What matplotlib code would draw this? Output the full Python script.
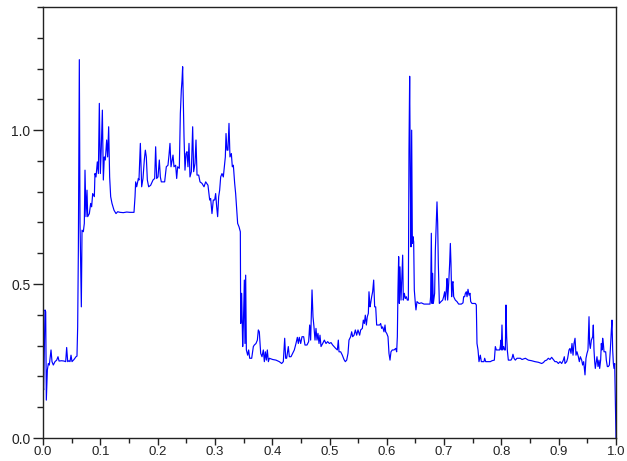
import matplotlib
matplotlib.use("Agg")
import matplotlib.pyplot as plt
from matplotlib.ticker import MultipleLocator
import numpy as np

# ---- data (x in [0,1], y value) ----
x_start = [0.0, 0.0006, 0.0011, 0.0035, 0.0047, 0.0058, 0.0076, 0.0093, 0.0110, 0.0140,
           0.0157, 0.0180, 0.0209, 0.0239, 0.0262, 0.0280, 0.0326, 0.0366, 0.0396, 0.0413,
           0.0431, 0.0454, 0.0471, 0.0489, 0.0506, 0.0541, 0.0576, 0.0593, 0.0605]
y_start = [0.0, 0.167, 0.156, 0.416, 0.410, 0.123, 0.221, 0.242, 0.237, 0.286,
           0.248, 0.237, 0.248, 0.253, 0.264, 0.250, 0.251, 0.250, 0.248, 0.294,
           0.248, 0.251, 0.248, 0.269, 0.248, 0.255, 0.264, 0.266, 0.361]

x_rise = [0.0617, 0.0634, 0.0646, 0.0658, 0.0669, 0.0681, 0.0704, 0.0721, 0.0733, 0.0750,
          0.0768, 0.0780, 0.0809, 0.0832, 0.0849, 0.0867, 0.0896, 0.0907, 0.0925, 0.0948,
          0.0966, 0.0983, 0.1001, 0.1018, 0.1036, 0.1053, 0.1070, 0.1088, 0.1111, 0.1128,
          0.1146, 0.1163, 0.1181, 0.1204, 0.1239, 0.1274, 0.1303, 0.1344, 0.1402, 0.1460,
          0.1518, 0.1588, 0.1606, 0.1617, 0.1635, 0.1664]
y_rise = [0.610, 1.229, 0.700, 0.545, 0.426, 0.675, 0.670, 0.697, 0.870, 0.719,
          0.805, 0.719, 0.729, 0.762, 0.751, 0.794, 0.784, 0.859, 0.848, 0.897,
          0.859, 1.087, 0.859, 0.946, 1.065, 0.838, 0.913, 0.903, 0.968, 0.913,
          1.011, 0.848, 0.784, 0.762, 0.740, 0.729, 0.735, 0.733, 0.732, 0.734,
          0.733, 0.733, 0.784, 0.832, 0.816, 0.843]

x_high = [0.1675, 0.1699, 0.1722, 0.1745, 0.1768, 0.1786, 0.1803, 0.1821, 0.1844, 0.1879,
          0.1920, 0.1949, 0.1966, 0.1984, 0.2007, 0.2030, 0.2048, 0.2065, 0.2123, 0.2152,
          0.2181, 0.2199, 0.2216, 0.2234, 0.2269, 0.2286, 0.2315, 0.2333, 0.2350, 0.2379,
          0.2397, 0.2414, 0.2426, 0.2437, 0.2449, 0.2461, 0.2478, 0.2496, 0.2513, 0.2530,
          0.2548, 0.2565, 0.2589, 0.2612, 0.2629, 0.2653, 0.2670, 0.2688, 0.2717, 0.2740,
          0.2775, 0.2810, 0.2839, 0.2879, 0.2909, 0.2926, 0.2949, 0.2972, 0.2996, 0.3013,
          0.3031, 0.3048, 0.3066, 0.3083, 0.3101, 0.3124, 0.3147, 0.3182, 0.3194, 0.3211,
          0.3228, 0.3246, 0.3263, 0.3287, 0.3304, 0.3322, 0.3345, 0.3362]
y_high = [0.838, 0.957, 0.816, 0.843, 0.903, 0.935, 0.913, 0.838, 0.816, 0.821,
          0.838, 0.843, 0.946, 0.843, 0.848, 0.903, 0.848, 0.832, 0.832, 0.881,
          0.886, 0.919, 0.957, 0.881, 0.919, 0.881, 0.886, 0.843, 0.881, 0.876,
          1.054, 1.130, 1.162, 1.206, 1.097, 0.978, 0.870, 0.924, 0.930, 0.881,
          0.957, 0.848, 0.865, 1.011, 0.865, 0.892, 0.968, 0.854, 0.854, 0.832,
          0.827, 0.816, 0.832, 0.821, 0.773, 0.778, 0.729, 0.773, 0.773, 0.794,
          0.751, 0.719, 0.784, 0.805, 0.848, 0.859, 0.848, 0.913, 0.989, 0.935,
          0.935, 1.022, 0.913, 0.924, 0.881, 0.886, 0.827, 0.794]

x_drop = [0.3397, 0.3421, 0.3444, 0.3450, 0.3467, 0.3485, 0.3496, 0.3514, 0.3525, 0.3537,
          0.3549, 0.3572, 0.3589, 0.3607, 0.3642, 0.3671, 0.3688, 0.3717, 0.3741, 0.3758,
          0.3775, 0.3799, 0.3822, 0.3845, 0.3863, 0.3880, 0.3898, 0.3915, 0.3933, 0.3950,
          0.4008, 0.4066, 0.4124, 0.4165, 0.4194, 0.4218, 0.4235, 0.4252, 0.4281, 0.4299,
          0.4328, 0.4357, 0.4386, 0.4415, 0.4439, 0.4456, 0.4473, 0.4497, 0.4520, 0.4549,
          0.4572, 0.4607, 0.4636, 0.4654, 0.4671, 0.4695, 0.4712, 0.4729, 0.4747, 0.4764,
          0.4782, 0.4799, 0.4817, 0.4834, 0.4852, 0.4881, 0.4910, 0.4939, 0.4968, 0.4997,
          0.5026, 0.5055]
y_drop = [0.697, 0.686, 0.670, 0.372, 0.470, 0.297, 0.361, 0.513, 0.307, 0.529,
          0.286, 0.269, 0.286, 0.259, 0.259, 0.297, 0.302, 0.307, 0.318, 0.351,
          0.345, 0.275, 0.264, 0.286, 0.248, 0.280, 0.253, 0.286, 0.248, 0.259,
          0.255, 0.253, 0.248, 0.242, 0.248, 0.324, 0.259, 0.259, 0.297, 0.264,
          0.264, 0.275, 0.286, 0.307, 0.327, 0.307, 0.327, 0.307, 0.329, 0.329,
          0.302, 0.302, 0.313, 0.367, 0.318, 0.481, 0.394, 0.361, 0.318, 0.356,
          0.318, 0.340, 0.307, 0.334, 0.297, 0.307, 0.318, 0.307, 0.313, 0.307,
          0.310, 0.302]

x_mid = [0.5108, 0.5137, 0.5154, 0.5166, 0.5195, 0.5224, 0.5253, 0.5276, 0.5300, 0.5323,
         0.5340, 0.5369, 0.5387, 0.5404, 0.5428, 0.5451, 0.5474, 0.5497, 0.5526, 0.5544,
         0.5573, 0.5590, 0.5608, 0.5625, 0.5643, 0.5660, 0.5678, 0.5689, 0.5707, 0.5718,
         0.5736, 0.5753, 0.5771, 0.5788, 0.5806, 0.5823, 0.5846, 0.5875, 0.5893, 0.5910,
         0.5928, 0.5951, 0.5969, 0.5980, 0.5998, 0.6021, 0.6038, 0.6056, 0.6073, 0.6096,
         0.6126, 0.6155, 0.6172, 0.6184, 0.6195, 0.6207, 0.6219, 0.6230, 0.6248, 0.6265,
         0.6277, 0.6288, 0.6306, 0.6323, 0.6341, 0.6358, 0.6376, 0.6387, 0.6399, 0.6411,
         0.6422, 0.6434, 0.6446, 0.6457, 0.6469, 0.6480, 0.6498, 0.6509, 0.6527, 0.6562,
         0.6603, 0.6649, 0.6707, 0.6754, 0.6765, 0.6777, 0.6789, 0.6800, 0.6812]
y_mid = [0.291, 0.286, 0.318, 0.280, 0.280, 0.269, 0.255, 0.248, 0.253, 0.275,
         0.318, 0.329, 0.345, 0.329, 0.334, 0.351, 0.334, 0.351, 0.334, 0.351,
         0.356, 0.383, 0.372, 0.399, 0.367, 0.394, 0.405, 0.475, 0.426, 0.437,
         0.459, 0.475, 0.513, 0.426, 0.426, 0.367, 0.367, 0.367, 0.372, 0.356,
         0.361, 0.345, 0.367, 0.345, 0.340, 0.329, 0.275, 0.253, 0.280, 0.286,
         0.286, 0.291, 0.280, 0.329, 0.481, 0.589, 0.437, 0.556, 0.448, 0.535,
         0.594, 0.448, 0.470, 0.453, 0.459, 0.448, 0.448, 0.935, 1.175, 0.827,
         0.621, 1.000, 0.632, 0.654, 0.637, 0.481, 0.437, 0.416, 0.443, 0.437,
         0.439, 0.435, 0.435, 0.435, 0.459, 0.665, 0.437, 0.535, 0.437]

x_late = [0.6835, 0.6847, 0.6864, 0.6876, 0.6888, 0.6899, 0.6917, 0.6946, 0.6975, 0.6992,
          0.7010, 0.7021, 0.7039, 0.7051, 0.7062, 0.7080, 0.7097, 0.7109, 0.7120, 0.7132,
          0.7144, 0.7155, 0.7167, 0.7196, 0.7225, 0.7254, 0.7301, 0.7330, 0.7341, 0.7359,
          0.7371, 0.7388, 0.7400, 0.7417, 0.7435, 0.7452, 0.7464, 0.7487, 0.7516, 0.7545,
          0.7562, 0.7574, 0.7592, 0.7609, 0.7632, 0.7650, 0.7673, 0.7696, 0.7708, 0.7726,
          0.7749, 0.7778, 0.7807, 0.7836, 0.7877, 0.7894, 0.7912, 0.7941, 0.7970, 0.7981,
          0.7993, 0.7999, 0.8010, 0.8022, 0.8040, 0.8057, 0.8069, 0.8080, 0.8092, 0.8103,
          0.8121, 0.8144, 0.8167, 0.8185, 0.8202, 0.8220, 0.8243, 0.8272, 0.8301, 0.8330,
          0.8360, 0.8418]
y_late = [0.470, 0.610, 0.697, 0.767, 0.697, 0.567, 0.437, 0.443, 0.448, 0.459,
          0.475, 0.448, 0.481, 0.518, 0.448, 0.502, 0.567, 0.632, 0.567, 0.459,
          0.502, 0.508, 0.459, 0.448, 0.443, 0.435, 0.435, 0.439, 0.459, 0.459,
          0.470, 0.475, 0.459, 0.483, 0.464, 0.470, 0.443, 0.437, 0.437, 0.437,
          0.432, 0.307, 0.286, 0.248, 0.269, 0.248, 0.248, 0.248, 0.259, 0.248,
          0.248, 0.248, 0.248, 0.251, 0.253, 0.297, 0.286, 0.286, 0.286, 0.297,
          0.318, 0.286, 0.367, 0.286, 0.297, 0.286, 0.286, 0.432, 0.329, 0.286,
          0.253, 0.253, 0.253, 0.259, 0.272, 0.259, 0.253, 0.259, 0.259, 0.259,
          0.255, 0.259]

x_end = [0.8470, 0.8528, 0.8586, 0.8645, 0.8703, 0.8732, 0.8761, 0.8790, 0.8819, 0.8848,
         0.8877, 0.8906, 0.8935, 0.8964, 0.8994, 0.9023, 0.9052, 0.9081, 0.9098, 0.9110,
         0.9139, 0.9156, 0.9180, 0.9197, 0.9215, 0.9232, 0.9250, 0.9267, 0.9285, 0.9302,
         0.9319, 0.9343, 0.9360, 0.9378, 0.9401, 0.9418, 0.9436, 0.9447, 0.9459, 0.9476,
         0.9494, 0.9511, 0.9529, 0.9540, 0.9552, 0.9570, 0.9593, 0.9604, 0.9616, 0.9628,
         0.9639, 0.9651, 0.9668, 0.9686, 0.9703, 0.9715, 0.9732, 0.9744, 0.9756, 0.9767,
         0.9779, 0.9791, 0.9808, 0.9820, 0.9831, 0.9849, 0.9866, 0.9884, 0.9901, 0.9919,
         0.9930, 0.9942, 0.9954, 0.9965, 0.9977, 0.9988, 1.0000]
y_end = [0.253, 0.251, 0.248, 0.246, 0.242, 0.245, 0.251, 0.253, 0.259, 0.255,
         0.262, 0.255, 0.248, 0.248, 0.242, 0.248, 0.242, 0.253, 0.264, 0.242,
         0.248, 0.259, 0.286, 0.291, 0.275, 0.307, 0.269, 0.307, 0.324, 0.269,
         0.280, 0.264, 0.248, 0.264, 0.253, 0.237, 0.248, 0.226, 0.205, 0.259,
         0.275, 0.286, 0.394, 0.307, 0.291, 0.318, 0.329, 0.367, 0.286, 0.248,
         0.226, 0.242, 0.264, 0.232, 0.253, 0.226, 0.253, 0.307, 0.286, 0.324,
         0.307, 0.280, 0.280, 0.280, 0.253, 0.232, 0.232, 0.237, 0.286, 0.351,
         0.383, 0.286, 0.242, 0.226, 0.242, 0.120, 0.0]

x_tick_labels = ["0.0", "0.1", "0.2", "0.3", "0.4", "0.5", "0.6", "0.7", "0.8", "0.9", "1.0"]
y_tick_labels = ["0.0", "0.5", "1.0"]

xs = [x_start, x_rise, x_high, x_drop, x_mid, x_late, x_end]
ys = [y_start, y_rise, y_high, y_drop, y_mid, y_late, y_end]
for a, b in zip(xs, ys):
    assert len(a) == len(b), (len(a), len(b))
x = np.concatenate(xs)
y = np.concatenate(ys)

plt.rcParams['font.family'] = ['Liberation Sans', 'DejaVu Sans']

fig = plt.figure(figsize=(6.27, 4.61), dpi=100)
ax = fig.add_axes([43 / 627, 23 / 461, 573 / 627, 431 / 461])

ax.plot(x, y, color='#0000ff', linewidth=0.85)

ax.set_xlim(0, 1)
ax.set_ylim(0, 1.4)

ax.set_xticks([float(t) for t in x_tick_labels])
ax.set_xticklabels(x_tick_labels)
ax.set_yticks([float(t) for t in y_tick_labels])
ax.set_yticklabels(y_tick_labels)
ax.xaxis.set_minor_locator(MultipleLocator(0.05))
ax.yaxis.set_minor_locator(MultipleLocator(0.1))

ax.tick_params(which='major', direction='out', width=1, colors='#222222',
               top=False, right=False)
ax.tick_params(axis='y', which='major', length=7, labelsize=10, pad=2)
ax.tick_params(axis='x', which='major', length=5, labelsize=9.5, pad=1)
ax.tick_params(axis='y', which='minor', direction='out', length=4.5, width=1,
               colors='#222222', right=False)
ax.tick_params(axis='x', which='minor', direction='out', length=3.5, width=1,
               colors='#222222', top=False)
for s in ax.spines.values():
    s.set_linewidth(1.0)
    s.set_color('#222222')

fig.savefig('out.png', dpi=100)
